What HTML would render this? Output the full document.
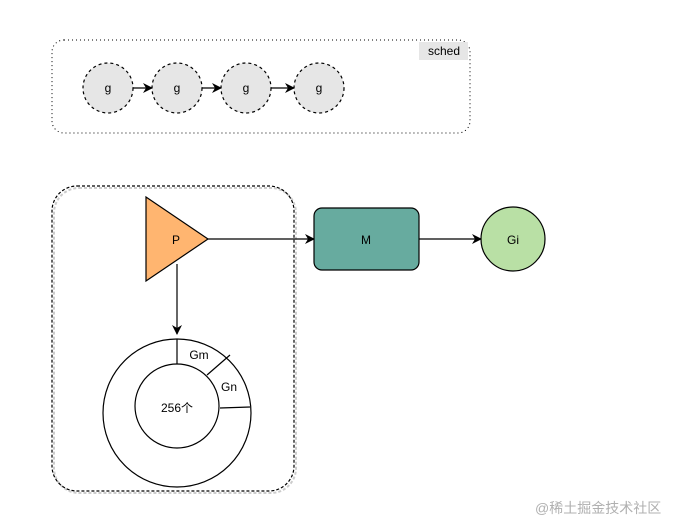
<!DOCTYPE html>
<html><head><meta charset="utf-8"><style>
html,body{margin:0;padding:0;background:#fff;}
svg{display:block;}
text{font-family:"Liberation Sans","Noto Sans CJK SC",sans-serif;}
</style></head><body>
<svg width="680" height="530" viewBox="0 0 680 530" xmlns="http://www.w3.org/2000/svg">
<defs>
<marker id="a" markerWidth="10" markerHeight="10" refX="9" refY="5" orient="auto" markerUnits="userSpaceOnUse">
<path d="M0,0 L10,5 L0,10 L3,5 Z" fill="#000"/>
</marker>
</defs>
<rect width="680" height="530" fill="#fff"/>
<rect x="52" y="40" width="418" height="93" rx="12" fill="none" stroke="#000" stroke-width="1" stroke-dasharray="1 3"/>
<rect x="419" y="42" width="49" height="18" fill="#e6e6e6"/>
<text x="444" y="55" font-size="12" text-anchor="middle" fill="#000">sched</text>
<g fill="#e6e6e6" stroke="#000" stroke-dasharray="3 3" stroke-width="1.2">
<circle cx="108" cy="88" r="25"/><circle cx="177" cy="88" r="25"/><circle cx="246" cy="88" r="25"/><circle cx="319" cy="88" r="25"/>
</g>
<g stroke="#000" stroke-width="1.2" marker-end="url(#a)">
<line x1="133" y1="88" x2="152" y2="88"/><line x1="202" y1="88" x2="221" y2="88"/><line x1="271" y1="88" x2="294" y2="88"/>
</g>
<g font-size="12" text-anchor="middle" fill="#000">
<text x="108" y="92">g</text><text x="177" y="92">g</text><text x="246" y="92">g</text><text x="319" y="92">g</text>
</g>
<rect x="54" y="188" width="242" height="305" rx="25" fill="none" stroke="#ccc" stroke-width="2" stroke-dasharray="3 2"/>
<rect x="52" y="186" width="242" height="305" rx="25" fill="none" stroke="#000" stroke-width="1.2" stroke-dasharray="3 2"/>
<polygon points="146,197 146,281 208,239" fill="#FFB570" stroke="#000" stroke-width="1.2"/>
<text x="176" y="244" font-size="12" text-anchor="middle">P</text>
<line x1="208" y1="239" x2="314" y2="239" stroke="#000" stroke-width="1.2" marker-end="url(#a)"/>
<line x1="177" y1="264" x2="177" y2="334" stroke="#000" stroke-width="1.2" marker-end="url(#a)"/>
<circle cx="177" cy="413" r="74" fill="#fff" stroke="#000" stroke-width="1.2"/>
<circle cx="177" cy="406" r="42" fill="#fff" stroke="#000" stroke-width="1.2"/>
<g stroke="#000" stroke-width="1.2">
<line x1="177" y1="339" x2="177" y2="364"/><line x1="207" y1="375" x2="230" y2="355"/><line x1="220" y1="408" x2="250" y2="407"/>
</g>
<text x="199" y="359" font-size="12" text-anchor="middle">Gm</text>
<text x="229" y="391" font-size="12" text-anchor="middle">Gn</text>
<text x="177" y="412" font-size="12" text-anchor="middle">256个</text>
<rect x="314" y="208" width="105" height="62" rx="8" fill="#67AB9F" stroke="#000" stroke-width="1.2"/>
<text x="366" y="244" font-size="12" text-anchor="middle">M</text>
<line x1="419" y1="239" x2="481" y2="239" stroke="#000" stroke-width="1.2" marker-end="url(#a)"/>
<circle cx="513" cy="239" r="32" fill="#B9E0A5" stroke="#000" stroke-width="1.2"/>
<text x="513" y="244" font-size="12" text-anchor="middle">Gi</text>
<text x="535" y="513" font-size="14" fill="#b0b0b0">@稀土掘金技术社区</text>
</svg>
</body></html>
